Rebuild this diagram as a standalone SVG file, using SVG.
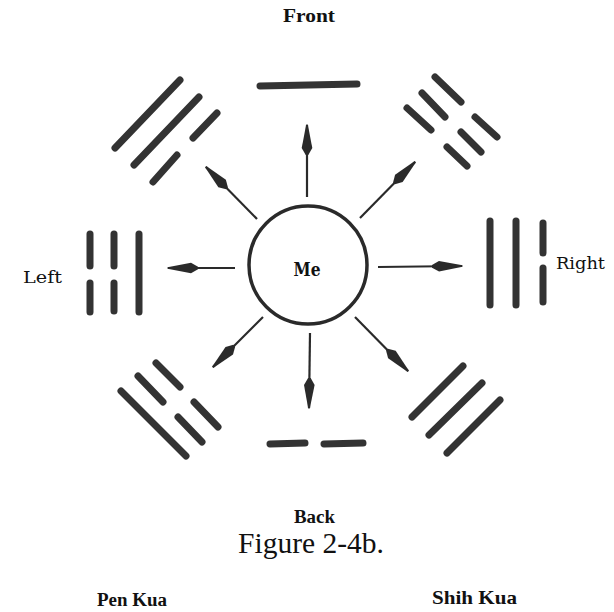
<svg xmlns="http://www.w3.org/2000/svg" width="614" height="612" viewBox="0 0 614 612">
<style>
.bar{stroke:#333;stroke-width:7;stroke-linecap:round;fill:none}
.arr{stroke:#2a2a2a;stroke-width:2.2;fill:none}
.lbl{font-family:"Liberation Serif","Times New Roman",serif;font-weight:bold;fill:#111}
.side{font-family:"DejaVu Serif","Liberation Serif",serif;fill:#111}
</style>
<defs>
<marker id="ah" markerUnits="userSpaceOnUse" markerWidth="34" markerHeight="14" viewBox="-32 -7 34 14" refX="0" refY="0" orient="auto">
<path d="M-30,-1.3 L-23,-5.3 L0.5,-0.8 L0.5,0.8 L-23,5.3 L-30,1.3 Z" fill="#2a2a2a"/>
</marker>
</defs>
<rect width="614" height="612" fill="#fff"/>

<g id="me">
<circle cx="308" cy="265" r="59" fill="none" stroke="#2a2a2a" stroke-width="3.5"/>
<text class="side" x="307" y="276" font-size="18" font-weight="bold" text-anchor="middle" textLength="27" lengthAdjust="spacingAndGlyphs">Me</text>
</g>

<g id="connectors">
<line class="arr" x1="307" y1="197" x2="307" y2="125" marker-end="url(#ah)"/>
<line class="arr" x1="360" y1="218" x2="415" y2="162" marker-end="url(#ah)"/>
<line class="arr" x1="257" y1="219" x2="206" y2="167" marker-end="url(#ah)"/>
<line class="arr" x1="235" y1="268" x2="168" y2="268" marker-end="url(#ah)"/>
<line class="arr" x1="378" y1="267" x2="462" y2="266" marker-end="url(#ah)"/>
<line class="arr" x1="263" y1="317" x2="213" y2="367" marker-end="url(#ah)"/>
<line class="arr" x1="310" y1="333" x2="309" y2="408" marker-end="url(#ah)"/>
<line class="arr" x1="355" y1="317" x2="408" y2="371" marker-end="url(#ah)"/>
</g>

<g id="trigram-front">
<line class="bar" x1="260" y1="86" x2="357" y2="84"/>
</g>

<g id="trigram-front-left">
<line class="bar" x1="115" y1="148" x2="180" y2="80"/>
<line class="bar" x1="134" y1="165" x2="199" y2="97"/>
<line class="bar" x1="193" y1="138" x2="217" y2="113"/>
<line class="bar" x1="153" y1="182" x2="177" y2="155"/>
</g>

<g id="trigram-front-right">
<line class="bar" x1="435" y1="77" x2="461" y2="102"/>
<line class="bar" x1="475" y1="117" x2="497" y2="137"/>
<line class="bar" x1="422" y1="93" x2="445" y2="117"/>
<line class="bar" x1="461" y1="132" x2="481" y2="152"/>
<line class="bar" x1="407" y1="108" x2="431" y2="130"/>
<line class="bar" x1="447" y1="147" x2="467" y2="166"/>
</g>

<g id="trigram-left">
<line class="bar" x1="90" y1="234" x2="90" y2="266"/>
<line class="bar" x1="90" y1="283" x2="90" y2="312"/>
<line class="bar" x1="114" y1="234" x2="114" y2="266"/>
<line class="bar" x1="114" y1="283" x2="114" y2="311"/>
<line class="bar" x1="139" y1="234" x2="139" y2="312"/>
</g>

<g id="trigram-right">
<line class="bar" x1="490" y1="221" x2="490" y2="305"/>
<line class="bar" x1="516" y1="221" x2="516" y2="305"/>
<line class="bar" x1="543" y1="223" x2="543" y2="253"/>
<line class="bar" x1="543" y1="268" x2="543" y2="302"/>
</g>

<g id="trigram-back-left">
<line class="bar" x1="121" y1="391" x2="186" y2="456"/>
<line class="bar" x1="138" y1="376" x2="163" y2="402"/>
<line class="bar" x1="178" y1="417" x2="202" y2="442"/>
<line class="bar" x1="156" y1="363" x2="180" y2="387"/>
<line class="bar" x1="194" y1="402" x2="218" y2="427"/>
</g>

<g id="trigram-back-right">
<line class="bar" x1="412" y1="417" x2="463" y2="366"/>
<line class="bar" x1="429" y1="435" x2="482" y2="383"/>
<line class="bar" x1="447" y1="453" x2="500" y2="400"/>
</g>

<g id="trigram-back">
<line class="bar" x1="270" y1="444" x2="305" y2="443"/>
<line class="bar" x1="324" y1="444" x2="363" y2="443"/>
</g>

<g id="labels">
<text class="lbl" x="309" y="22" font-size="19" text-anchor="middle" textLength="52" lengthAdjust="spacingAndGlyphs">Front</text>
<text class="lbl" x="314.5" y="523" font-size="18" text-anchor="middle" textLength="41" lengthAdjust="spacingAndGlyphs">Back</text>
<text x="311" y="553" font-family="Liberation Serif,'Times New Roman',serif" font-size="29.5" fill="#111" text-anchor="middle">Figure 2-4b.</text>
<text class="lbl" x="97" y="606" font-size="18" textLength="70" lengthAdjust="spacingAndGlyphs">Pen Kua</text>
<text class="lbl" x="432" y="604" font-size="19" textLength="85" lengthAdjust="spacingAndGlyphs">Shih Kua</text>
<text class="side" x="23" y="283" font-size="16.5" textLength="39" lengthAdjust="spacingAndGlyphs">Left</text>
<text class="side" x="556" y="269" font-size="17" textLength="49" lengthAdjust="spacingAndGlyphs">Right</text>
</g>
</svg>
